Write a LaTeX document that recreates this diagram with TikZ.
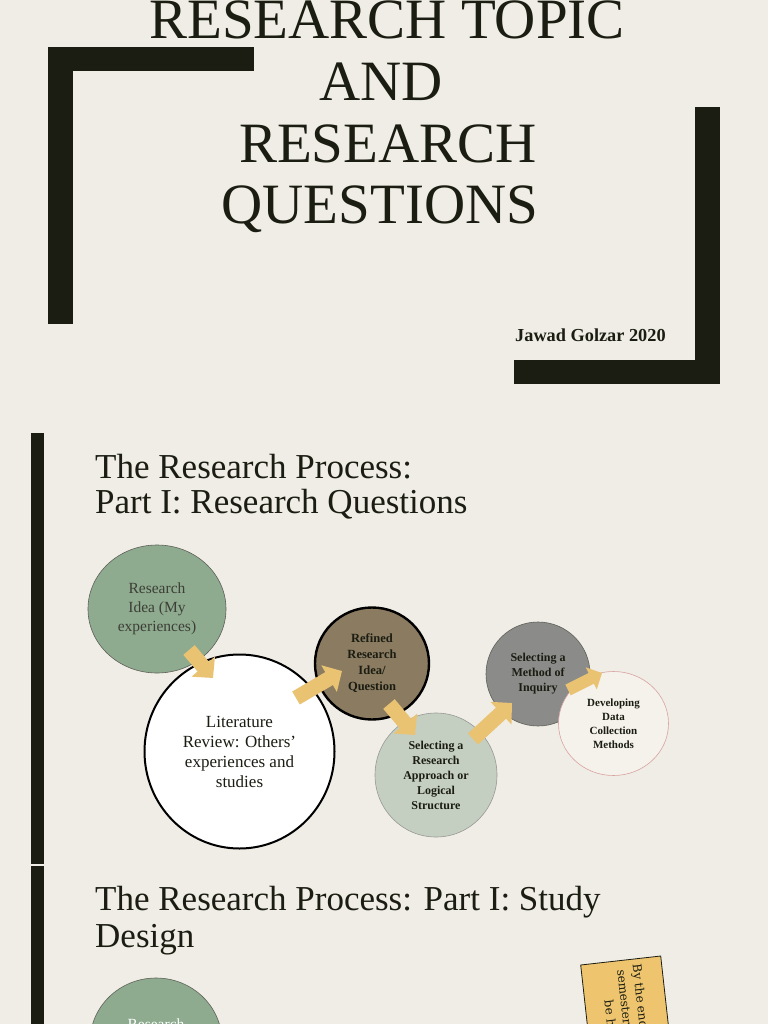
\documentclass[tikz,border=0pt]{standalone}
\usepackage{fontspec}
\setmainfont{Liberation Serif}
\newfontfamily\notefont{DejaVu Serif}
\usetikzlibrary{shapes.geometric,arrows.meta}
\definecolor{bg}{HTML}{EFEDE5}
\definecolor{ink}{HTML}{1B1C12}
\definecolor{sage}{HTML}{8EAB8F}
\definecolor{umber}{HTML}{8A7B61}
\definecolor{mist}{HTML}{C4CFC2}
\definecolor{stone}{HTML}{8B8B89}
\definecolor{paper}{HTML}{F5F2EC}
\definecolor{rosy}{HTML}{D9A3A3}
\definecolor{gold}{HTML}{E9C272}
\definecolor{note}{HTML}{EEC56E}
\newcommand\myfs[2]{\fontsize{#1}{#2}\selectfont}
\tikzset{
  bubble/.style={ellipse, inner sep=0pt, align=center, text=ink},
  goldarrow/.style={draw=gold, line width=15pt, -{Triangle[width=30pt,length=15pt]}},
  smallgold/.style={draw=gold, line width=12pt, -{Triangle[width=24pt,length=12pt]}},
  bar/.style={fill=ink, draw=none},
  title/.style={anchor=base, text=ink, inner sep=0pt, font=\myfs{57}{57}},
  head/.style={anchor=base west, text=ink, inner sep=0pt, font=\myfs{35}{35}},
  notetext/.style={anchor=base west, align=left, text=ink, inner sep=0pt, rotate=-83.6, font=\notefont\myfs{12}{16}}
}
\begin{document}
\begin{tikzpicture}[x=1pt,y=-1pt]
\useasboundingbox (0,0) rectangle (768,1024);
\clip (0,0) rectangle (768,1024);
\fill[bg] (0,0) rectangle (768,1024);

% brackets
\fill[bar] (48,47) rectangle (254,71);
\fill[bar] (48,47) rectangle (73,324);
\fill[bar] (695,107) rectangle (720,384);
\fill[bar] (514,360) rectangle (720,384);
% left bars
\fill[bar] (31,433) rectangle (44,864);
\fill[bar] (31,866) rectangle (44,1024);

% title
\node[title] (t1) at (387,39) {RESEARCH TOPIC};
\node[title] (t2) at (381,101) {AND};
\node[title] (t3) at (388,163) {RESEARCH};
\node[title] (t4) at (380,223) {QUESTIONS};
\node[anchor=base west, inner sep=0pt, text=ink, font=\myfs{18.3}{18}\bfseries] (auth) at (515,341.5) {Jawad Golzar 2020};

% headings
\node[head] (h1) at (95,478) {The Research Process:};
\node[head] (h2) at (95,513) {Part I: Research Questions};
\node[head] (h3) at (95,910) {The Research Process: Part I: Study};
\node[head] (h4) at (95,947) {Design};

% bubbles
\node[bubble, fill=sage, draw=ink!70, line width=0.6pt, minimum width=138pt, minimum height=128pt,
      font=\myfs{15.5}{19}, text=ink!85] (idea) at (157,609) {Research\\Idea (My\\experiences)};
\node[bubble, fill=white, draw=black, line width=2pt, minimum width=190pt, minimum height=194pt,
      font=\myfs{17}{20}] (lit) at (239.5,751.5) {Literature\\Review: Others'\\experiences and\\studies};
\node[bubble, fill=umber, draw=black, line width=2.4pt, minimum width=114pt, minimum height=112pt,
      font=\myfs{12.5}{16}\bfseries] (refined) at (372,663.5) {Refined\\Research\\Idea/\\Question};
\node[bubble, fill=mist, draw=ink!45, line width=0.6pt, minimum width=122pt, minimum height=124pt,
      font=\myfs{12}{15}\bfseries] (approach) at (436,775) {Selecting a\\Research\\Approach or\\Logical\\Structure};
\node[bubble, fill=stone, draw=ink!70, line width=0.6pt, minimum width=104pt, minimum height=104pt,
      font=\myfs{12}{15}\bfseries] (method) at (538,674) {Selecting a\\Method of\\Inquiry};
\node[bubble, fill=paper, draw=rosy, line width=0.6pt, minimum width=110pt, minimum height=104pt,
      font=\myfs{11}{14}\bfseries] (collect) at (613.5,723.5) {Developing\\Data\\Collection\\Methods};

% arrows
\coordinate (a1s) at (189,650); \coordinate (a1e) at (213,678);
\coordinate (a2s) at (296,698); \coordinate (a2e) at (342,671);
\coordinate (a3s) at (389,704); \coordinate (a3e) at (415,735);
\coordinate (a4s) at (473,739); \coordinate (a4e) at (512,703);
\coordinate (a5s) at (568,690); \coordinate (a5e) at (602,673);
\draw[goldarrow] (a1s) -- (a1e);
\draw[goldarrow] (a2s) -- (a2e);
\draw[goldarrow] (a3s) -- (a3e);
\draw[goldarrow] (a4s) -- (a4e);
\draw[smallgold] (a5s) -- (a5e);

% lower slide bubble
\node[bubble, fill=sage, draw=ink!70, line width=0.6pt, minimum width=132pt, minimum height=128pt] (idea2) at (156,1042) {};
\node[anchor=base, inner sep=0pt, text=white, font=\myfs{15.5}{19}] (idea2t) at (156,1029) {Research};

% sticky note
\fill[note, draw=ink, line width=0.8pt] (580.7,965) -- (660.7,956) -- (670,1040) -- (590,1049) -- cycle;
\node[notetext] (n1) at (600.7,967.6) {By the end\\\hspace*{4pt}semester,\\\hspace*{33pt}be h};
\end{tikzpicture}
\end{document}
